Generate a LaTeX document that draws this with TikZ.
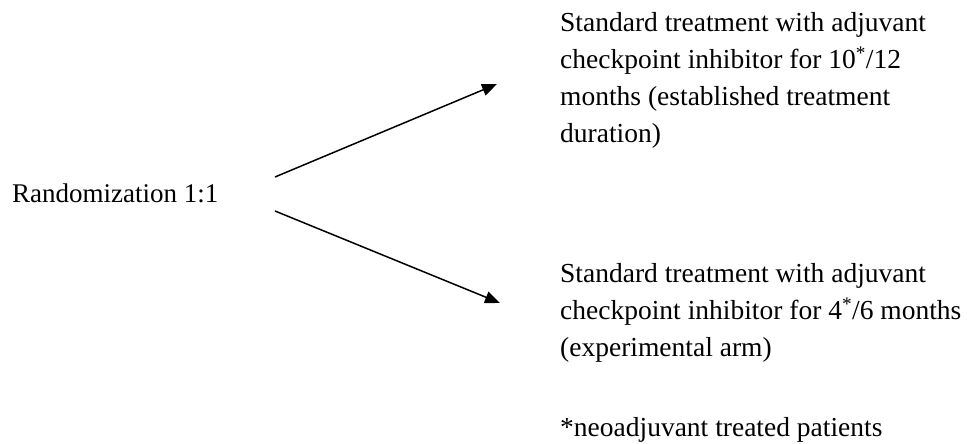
\documentclass[tikz,border=0pt]{standalone}
\usepackage{fontspec}
\setmainfont{Liberation Serif}
\usetikzlibrary{arrows.meta}
\begin{document}
\begin{tikzpicture}[x=1pt,y=1pt,
  txt/.style={inner sep=0pt, anchor=base west, align=left,
    font=\fontsize{27.5}{37}\selectfont},
  arr/.style={line width=1.5pt, -{Triangle[length=15pt,width=12pt]}}]
\useasboundingbox (0,0) rectangle (967,444);
\node[txt, font=\fontsize{27}{37}\selectfont] (rand) at (12,241) {Randomization 1:1};
% last-line baselines: first baseline 412, 4 lines
\node[txt] (top) at (560,301) {Standard treatment with adjuvant\\checkpoint inhibitor for 10\textsuperscript{*}/12\\months (established treatment\\duration)};
% first baseline 161, 3 lines
\node[txt] (bot) at (560,87) {Standard treatment with adjuvant\\checkpoint inhibitor for 4\textsuperscript{*}/6 months\\(experimental arm)};
\node[txt] (note) at (560,7) {*neoadjuvant treated patients};
\coordinate (s1) at (275,267);
\coordinate (e1) at (497,360);
\coordinate (s2) at (275,233);
\coordinate (e2) at (500,141);
\draw[arr] (s1) -- (e1);
\draw[arr] (s2) -- (e2);
\end{tikzpicture}
\end{document}
